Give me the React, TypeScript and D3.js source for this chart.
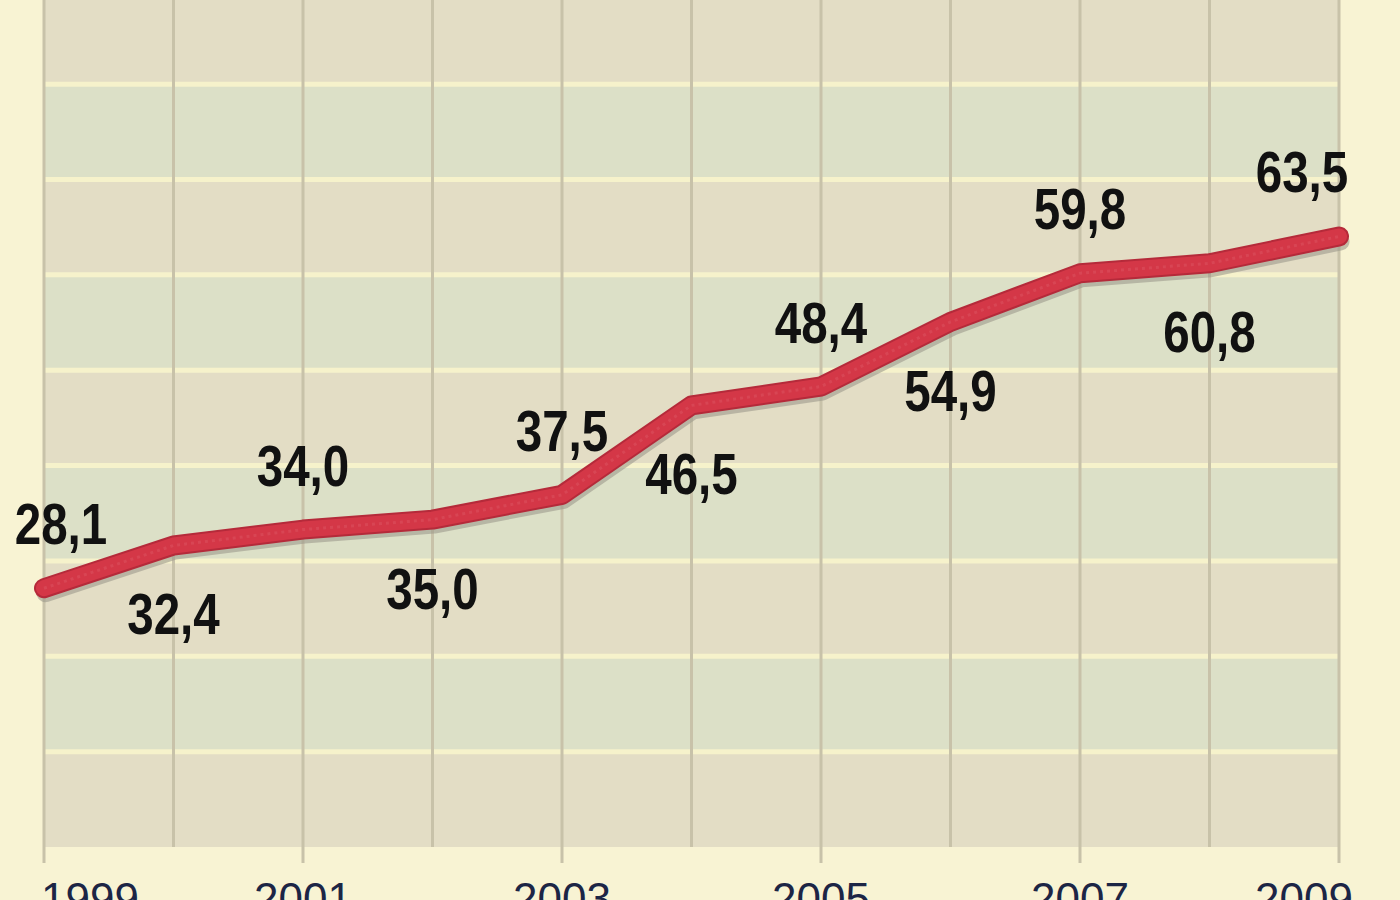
import React from "react";
import * as d3 from "d3";

const years: number[] = [1999, 2000, 2001, 2002, 2003, 2004, 2005, 2006, 2007, 2008, 2009];
const values: number[] = [28.1, 32.4, 34.0, 35.0, 37.5, 46.5, 48.4, 54.9, 59.8, 60.8, 63.5];
const valueLabels: string[] = ["28,1", "32,4", "34,0", "35,0", "37,5", "46,5", "48,4", "54,9", "59,8", "60,8", "63,5"];
const labelSide: string[] = ["above", "below", "above", "below", "above", "below", "above", "below", "above", "below", "above"];
const tickYears: number[] = [1999, 2001, 2003, 2005, 2007, 2009];
const bandRows: number[] = [0, 1, 2, 3, 4, 5, 6, 7, 8];

const W = 1400;
const H = 900;
const plotLeft = 44;
const plotRight = 1339;
const plotBottom = 847;

const COLORS = {
  page: "#f8f3d3",
  bandA: "#e3ddc5",
  bandB: "#dce0c7",
  hGrid: "#f6f2cb",
  vGrid: "#c8c2a9",
  line: "#d43747",
  lineEdge: "#b52a3a",
  shadow: "#9c9a8c",
  label: "#111111",
  axisText: "#1c2545",
};

export default function App() {
  const x = d3.scaleLinear().domain([1999, 2009]).range([plotLeft, plotRight]);
  const y = d3.scaleLinear().domain([0, 87.3]).range([867.4, 0]);
  const band = d3.scaleLinear().domain([0, 9]).range([plotBottom, -11.2]);

  const pts: [number, number][] = years.map((yr, i) => [x(yr), y(values[i])]);
  const line = d3.line<[number, number]>().curve(d3.curveLinear);
  const path = line(pts) || "";
  const shadowPath = line(pts.map(([a, b]) => [a + 1.5, b + 5] as [number, number])) || "";

  const labelX = (px: number) => Math.max(plotLeft + 17, Math.min(plotRight - 37, px));
  const axisLabelX = (px: number) => Math.max(plotLeft + 46, Math.min(plotRight - 35, px));

  return (
    <div style={{ position: "absolute", left: 0, top: 0, width: W, height: H, background: COLORS.page }}>
      <svg width={W} height={H} style={{ display: "block" }}>
        <rect x={0} y={0} width={W} height={H} fill={COLORS.page} />
        {/* bands */}
        {bandRows.map((i) => (
          <rect
            key={"b" + i}
            x={plotLeft}
            y={band(i + 1)}
            width={plotRight - plotLeft}
            height={band(i) - band(i + 1)}
            fill={i % 2 === 0 ? COLORS.bandA : COLORS.bandB}
          />
        ))}
        {/* horizontal grid lines */}
        {bandRows.slice(1).map((i) => (
          <line
            key={"h" + i}
            x1={plotLeft}
            x2={plotRight}
            y1={band(i)}
            y2={band(i)}
            stroke={COLORS.hGrid}
            strokeWidth={5}
          />
        ))}
        {/* vertical grid lines */}
        {years.map((yr) => (
          <line
            key={"v" + yr}
            x1={x(yr)}
            x2={x(yr)}
            y1={0}
            y2={tickYears.includes(yr) ? plotBottom + 16 : plotBottom}
            stroke={COLORS.vGrid}
            strokeWidth={3}
          />
        ))}
        {/* line shadow */}
        <path d={shadowPath} fill="none" stroke={COLORS.shadow} strokeOpacity={0.6} strokeWidth={18} strokeLinejoin="round" strokeLinecap="round" />
        {/* red line */}
        <path d={path} fill="none" stroke={COLORS.lineEdge} strokeWidth={20} strokeLinejoin="round" strokeLinecap="round" />
        <path d={path} fill="none" stroke={COLORS.line} strokeWidth={16} strokeLinejoin="round" strokeLinecap="round" />
        <path d={path} fill="none" stroke="#e0606c" strokeOpacity={0.35} strokeWidth={3} strokeDasharray="3 4" strokeLinejoin="round" />
        {/* value labels */}
        {pts.map(([px, py], i) => (
          <text
            key={"l" + i}
            transform={`translate(${labelX(px)},${labelSide[i] === "above" ? py - 44 : py + 89}) scale(0.82,1)`}
            textAnchor="middle"
            fontFamily="'Liberation Sans', Arial, sans-serif"
            fontWeight="bold"
            fontSize={58}
            fill={COLORS.label}
          >
            {valueLabels[i]}
          </text>
        ))}
        {/* x-axis labels */}
        {tickYears.map((yr) => (
          <text
            key={"t" + yr}
            x={axisLabelX(x(yr))}
            y={914}
            textAnchor="middle"
            fontFamily="'Liberation Sans', sans-serif"
            fontSize={44}
            fill={COLORS.axisText}
          >
            {String(yr)}
          </text>
        ))}
      </svg>
    </div>
  );
}
